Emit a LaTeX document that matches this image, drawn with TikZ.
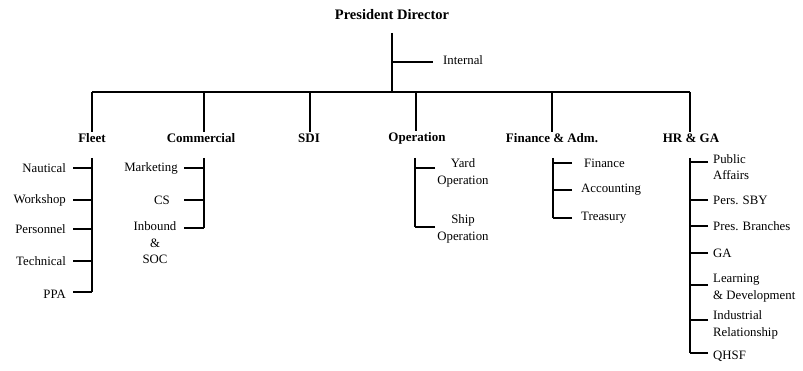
\documentclass[tikz,border=0pt]{standalone}
\usepackage{fontspec}
\setmainfont{Liberation Serif}
\begin{document}
\begin{tikzpicture}[x=1pt,y=-1pt,
  lbl/.style={font=\fontsize{12.8}{16.5}\selectfont, inner sep=1pt, align=center, text=black},
  lbll/.style={lbl, align=left},
  head/.style={font=\bfseries\fontsize{13}{16}\selectfont, inner sep=1pt, text=black},
  title/.style={font=\bfseries\fontsize{14.5}{17}\selectfont, inner sep=1pt, text=black},
  conn/.style={draw=black, line width=1.4pt}]
\useasboundingbox (0,0) rectangle (803,371);

% top
\node[title] (pd) at (392,15) {President Director};
\coordinate (pdb) at (392,33);
\coordinate (intj) at (392,62);
\coordinate (inte) at (433,62);
\node[lbl, anchor=west] (int) at (442,60) {Internal};
\draw[conn] (pdb) -- (intj) -- (392,92);
\draw[conn] (intj) -- (inte);

% bus
\coordinate (busL) at (92,92);
\coordinate (busR) at (690,92);
\draw[conn] (busL) -- (busR);

% heads
\node[head] (fleet) at (92,138) {Fleet};
\node[head] (comm) at (201,138) {Commercial};
\node[head] (sdi) at (309,138) {SDI};
\node[head] (oper) at (417,138) {Operation};
\node[head] (fin) at (552,138) {Finance \& Adm.};
\node[head] (hr) at (691,138) {HR \& GA};
\coordinate (d1) at (92,92);
\coordinate (d2) at (204,92);
\coordinate (d3) at (310,92);
\coordinate (d4) at (416,92);
\coordinate (d5) at (552,92);
\coordinate (d6) at (690,92);
\draw[conn] (d1) -- (d1 |- fleet.north);
\draw[conn] (d2) -- (d2 |- comm.north);
\draw[conn] (d3) -- (d3 |- sdi.north);
\draw[conn] (d4) -- (d4 |- oper.north);
\draw[conn] (d5) -- (d5 |- fin.north);
\draw[conn] (d6) -- (d6 |- hr.north);

% Fleet
\coordinate (fv1) at (92,158);
\coordinate (fv2) at (92,292);
\draw[conn] (fv1) -- (fv2);
\coordinate (f1) at (73,168);
\coordinate (f2) at (73,200);
\coordinate (f3) at (73,229);
\coordinate (f4) at (73,261);
\coordinate (f5) at (73,292);
\foreach \c in {f1,f2,f3,f4,f5} \draw[conn] (\c) -- (\c -| fv1);
\node[lbl, anchor=east] (naut) at (67,168) {Nautical};
\node[lbl, anchor=east] (work) at (67,200) {Workshop};
\node[lbl, anchor=east] (pers) at (67,229) {Personnel};
\node[lbl, anchor=east] (tech) at (67,261) {Technical};
\node[lbl, anchor=east] (ppa) at (67,294) {PPA};

% Commercial
\coordinate (cv1) at (204,158);
\coordinate (cv2) at (204,228);
\draw[conn] (cv1) -- (cv2);
\coordinate (c1) at (184,168);
\coordinate (c2) at (184,200);
\coordinate (c3) at (184,228);
\foreach \c in {c1,c2,c3} \draw[conn] (\c) -- (\c -| cv1);
\node[lbl] (mkt) at (151,168) {Marketing};
\node[lbl] (cs) at (162,200) {CS};
\node[lbl] (inb) at (155,243) {Inbound\\\&\\SOC};

% Operation
\coordinate (ov1) at (415,158);
\coordinate (ov2) at (415,227);
\draw[conn] (ov1) -- (ov2);
\coordinate (o1) at (435,168);
\coordinate (o2) at (435,227);
\draw[conn] (o1) -- (o1 -| ov1);
\draw[conn] (o2) -- (o2 -| ov1);
\node[lbl] (yard) at (463,173) {Yard\\Operation};
\node[lbl] (ship) at (463,229) {Ship\\Operation};

% Finance
\coordinate (nv1) at (553,158);
\coordinate (nv2) at (553,218);
\draw[conn] (nv1) -- (nv2);
\coordinate (n1) at (572,163);
\coordinate (n2) at (572,190);
\coordinate (n3) at (572,218);
\foreach \c in {n1,n2,n3} \draw[conn] (\c) -- (\c -| nv1);
\node[lbl, anchor=west] (finc) at (583,163) {Finance};
\node[lbl, anchor=west] (acc) at (580,190) {Accounting};
\node[lbl, anchor=west] (tre) at (580,218) {Treasury};

% HR & GA
\coordinate (hv1) at (690,158);
\coordinate (hv2) at (690,353);
\draw[conn] (hv1) -- (hv2);
\coordinate (h1) at (708,162);
\coordinate (h2) at (708,200);
\coordinate (h3) at (708,226);
\coordinate (h4) at (708,253);
\coordinate (h5) at (708,285);
\coordinate (h6) at (708,320);
\coordinate (h7) at (708,353);
\foreach \c in {h1,h2,h3,h4,h5,h6,h7} \draw[conn] (\c) -- (\c -| hv1);
\node[lbll, anchor=west] (pub) at (712,167) {Public\\Affairs};
\node[lbll, anchor=west] (psby) at (712,200) {Pers. SBY};
\node[lbll, anchor=west] (pbr) at (712,226) {Pres. Branches};
\node[lbll, anchor=west] (ga) at (712,253) {GA};
\node[lbll, anchor=west] (ld) at (712,288) {Learning\\\& Development};
\node[lbll, anchor=west] (ir) at (712,325) {Industrial\\Relationship};
\node[lbll, anchor=west] (qhsf) at (712,356) {QHSF};
\end{tikzpicture}
\end{document}
